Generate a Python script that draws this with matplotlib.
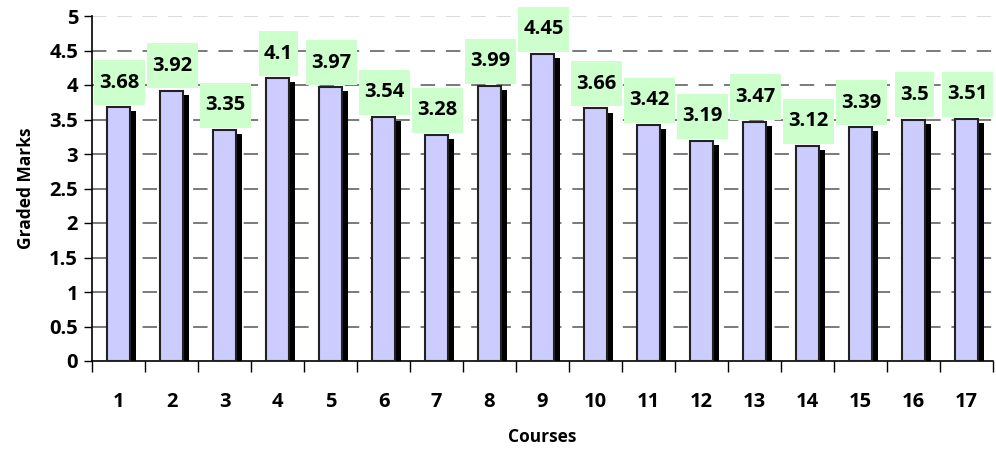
import numpy as np
import matplotlib.pyplot as plt
from matplotlib.patches import Rectangle

plt.rcParams["font.family"] = ["Open Sans", "DejaVu Sans"]
plt.rcParams["font.weight"] = "bold"

courses = [str(i) for i in range(1, 18)]
marks = [3.68, 3.92, 3.35, 4.1, 3.97, 3.54, 3.28, 3.99, 4.45,
         3.66, 3.42, 3.19, 3.47, 3.12, 3.39, 3.5, 3.51]
yticks = [0, 0.5, 1, 1.5, 2, 2.5, 3, 3.5, 4, 4.5, 5]

BAR_FACE = "#ccccff"
LABEL_FACE = "#ccffcc"

fig = plt.figure(figsize=(9.96, 4.54), dpi=100)
ax = fig.add_axes([92 / 996, 93 / 454, 901 / 996, 345 / 454])

x = np.arange(len(courses))
width = 0.45
# drop shadow behind every bar
ax.bar(x + 0.1, np.array(marks) - 0.06, width=width, color="black", zorder=2)
ax.bar(x, marks, width=width, color=BAR_FACE, edgecolor="#222222",
       linewidth=1.5, zorder=3)

ax.set_xlim(-0.5, len(courses) - 0.5)
ax.set_ylim(0, 5)
ax.set_yticks(yticks)
ax.set_yticklabels([f"{t:g}" for t in yticks], fontsize=14.5, fontweight="bold")

# category boundaries carry the ticks, labels sit in the middle
ax.set_xticks(np.arange(len(courses) + 1) - 0.5)
ax.set_xticklabels([])
ax.set_xticks(x, minor=True)
ax.set_xticklabels(courses, minor=True, fontsize=14.5, fontweight="bold")
ax.tick_params(axis="x", which="major", length=8, width=1, direction="out")
ax.tick_params(axis="x", which="minor", length=0, pad=22)
ax.tick_params(axis="y", length=6, width=1, pad=4)

for t in yticks[1:-1]:
    ax.axhline(t, color="#707070", linestyle=(0, (8, 6)), linewidth=1.3, zorder=1)
ax.axhline(5, color="#d8d8d8", linestyle=(0, (8, 6)), linewidth=1.3, zorder=1)

for side in ("top", "right"):
    ax.spines[side].set_visible(False)
for side in ("left", "bottom"):
    ax.spines[side].set_linewidth(1.2)

ax.set_xlabel("Courses", fontsize=12.5, fontweight="bold", labelpad=12)
ax.set_ylabel("Graded Marks", fontsize=12.5, fontweight="bold", labelpad=10)

# value labels in green boxes resting on top of each bar
fig.canvas.draw()
renderer = fig.canvas.get_renderer()
px_per_unit = ax.transData.transform((0, 1))[1] - ax.transData.transform((0, 0))[1]
px_per_cat = ax.transData.transform((1, 0))[0] - ax.transData.transform((0, 0))[0]
box_h = 45 / px_per_unit
for xi, v in zip(x, marks):
    txt = ax.text(xi + 0.02, v + 0.03 + box_h / 2, f"{v:g}", ha="center", va="center",
                  fontsize=14.5, fontweight="bold", zorder=5)
    bb = txt.get_window_extent(renderer)
    box_w = (bb.width + 10) / px_per_cat
    ax.add_patch(Rectangle((xi + 0.02 - box_w / 2, v + 0.03), box_w, box_h,
                           facecolor=LABEL_FACE, edgecolor="none", zorder=4,
                           clip_on=False))

fig.savefig("out.png", dpi=100)
